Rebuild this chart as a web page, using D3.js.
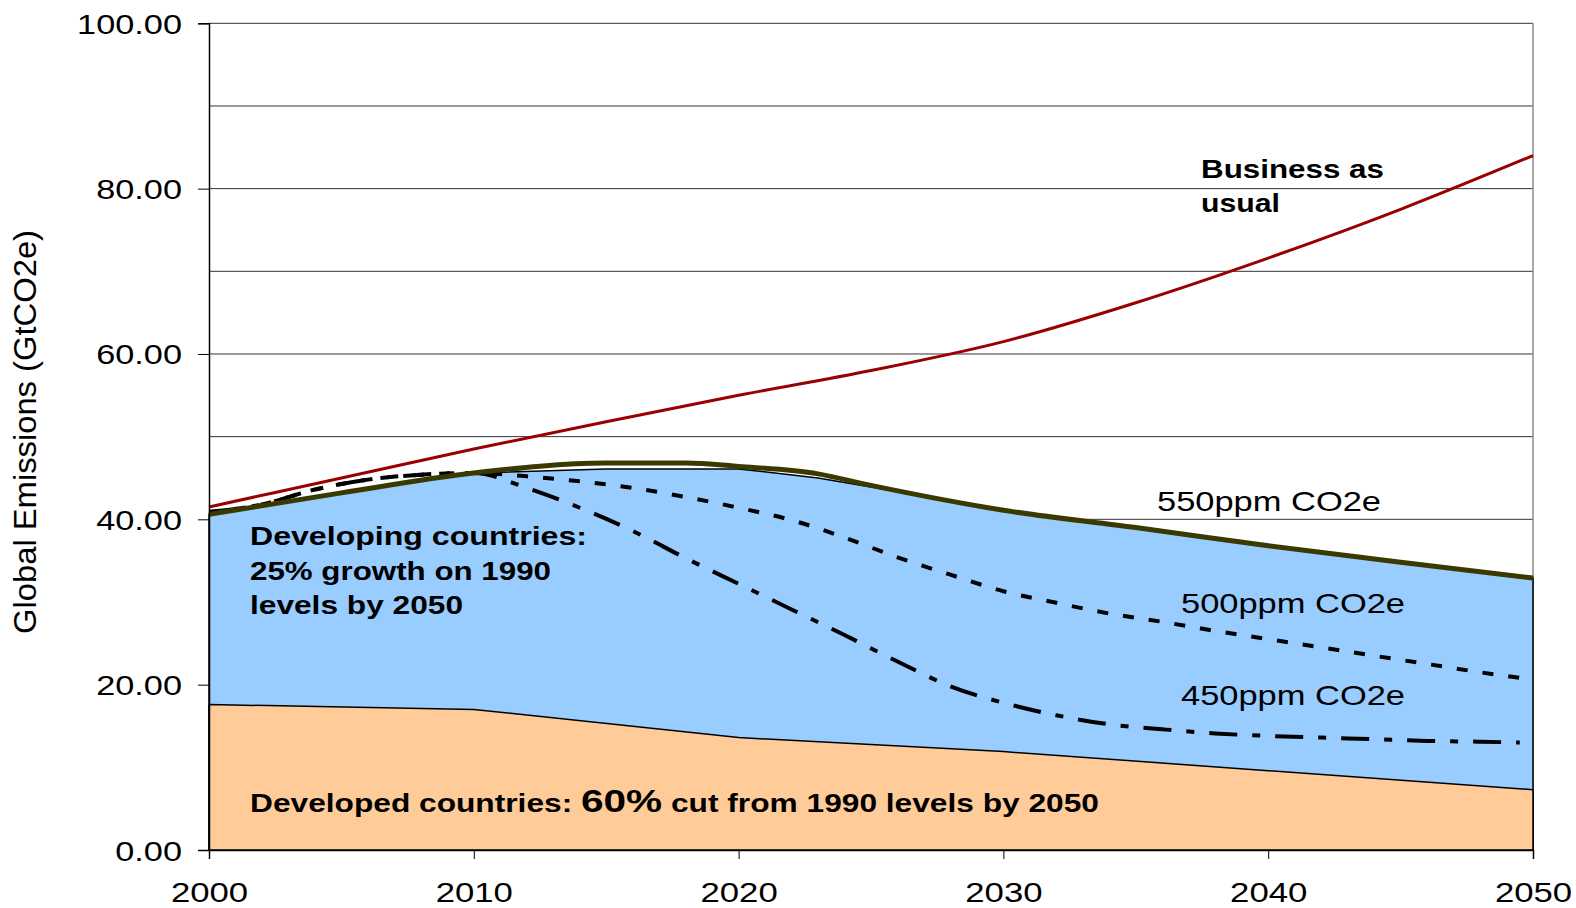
<!DOCTYPE html>
<html>
<head>
<meta charset="utf-8">
<script src="https://cdn.jsdelivr.net/npm/d3@7"></script>
<style>
  html, body { margin: 0; padding: 0; background: #fff; }
  svg { display: block; }
  text { font-family: "Liberation Sans", Arial, sans-serif; fill: #000; }
</style>
</head>
<body>
<svg id="chart" width="1576" height="908"></svg>
<script>
// ---------- DATA ----------
const xTicks = [2000, 2010, 2020, 2030, 2040, 2050];
const yTicks = [0, 20, 40, 60, 80, 100];
const gridValues = [10, 20, 30, 40, 50, 60, 70, 80, 90, 100];

// Business as usual
const bauYears  = [2000, 2005, 2010, 2015, 2020, 2025, 2030, 2035, 2040, 2045, 2050];
const bauValues = [41.5, 45.0, 48.5, 51.8, 55.0, 58.0, 61.5, 66.2, 71.6, 77.5, 84.0];

// Developed countries (orange area top)
const developedYears  = [2000, 2010, 2020, 2030, 2040, 2050];
const developedValues = [17.6, 17.0, 13.6, 11.9, 9.6, 7.3];

// Developing countries area top (blue area)
const developingYears  = [2000, 2005, 2010, 2015, 2020, 2023, 2025, 2030, 2035, 2040, 2045, 2050];
const developingValues = [40.6, 43.2, 45.6, 46.1, 46.1, 45.0, 43.9, 41.1, 39.0, 36.8, 34.8, 32.9];

// 550ppm CO2e pathway (olive line)
const p550Years  = [2000, 2005, 2010, 2015, 2018, 2020, 2023, 2025, 2030, 2035, 2040, 2045, 2050];
const p550Values = [40.6, 43.2, 45.6, 46.8, 46.8, 46.4, 45.5, 44.1, 41.1, 39.0, 36.8, 34.8, 32.9];

// 500ppm CO2e pathway (dotted)
const p500Years  = [2000, 2002, 2004, 2006, 2008, 2010, 2012, 2014, 2016, 2018, 2020, 2022, 2024, 2026, 2028, 2030, 2032, 2034, 2036, 2038, 2040, 2042, 2044, 2046, 2048, 2050];
const p500Values = [40.9, 41.8, 43.6, 44.8, 45.4, 45.6, 45.2, 44.6, 43.8, 42.7, 41.4, 39.9, 37.8, 35.4, 33.3, 31.3, 29.9, 28.6, 27.6, 26.5, 25.5, 24.5, 23.5, 22.5, 21.5, 20.6];

// 450ppm CO2e pathway (dash-dot)
const p450Years  = [2000, 2002, 2004, 2006, 2008, 2010, 2012, 2014, 2016, 2018, 2020, 2022, 2024, 2026, 2028, 2030, 2032, 2034, 2036, 2038, 2040, 2042, 2044, 2046, 2048, 2049.5];
const p450Values = [40.9, 41.8, 43.6, 44.8, 45.4, 45.6, 43.8, 41.4, 38.6, 35.3, 32.2, 29.1, 26.0, 22.8, 19.8, 17.8, 16.3, 15.2, 14.6, 14.1, 13.8, 13.6, 13.4, 13.2, 13.1, 13.0];

const yAxisTitle = "Global Emissions (GtCO2e)";

// ---------- LAYOUT ----------
const svg = d3.select("#chart");
const plotLeft = 209, plotRight = 1533, plotTop = 23.3, plotBottom = 850;

const x = d3.scaleLinear().domain([2000, 2050]).range([plotLeft, plotRight]);
const y = d3.scaleLinear().domain([0, 100]).range([plotBottom, plotTop]);

const zip = (xs, vs) => xs.map((d, i) => ({ year: d, value: vs[i] }));

function stretch(sel, factor) {
  sel.each(function () {
    const w = this.getComputedTextLength();
    d3.select(this).attr("textLength", w * factor).attr("lengthAdjust", "spacingAndGlyphs");
  });
}
function fit(sel, width) {
  sel.attr("textLength", width).attr("lengthAdjust", "spacingAndGlyphs");
}

// gridlines
svg.append("g").selectAll("line").data(gridValues).join("line")
  .attr("x1", plotLeft).attr("x2", plotRight)
  .attr("y1", d => y(d)).attr("y2", d => y(d))
  .attr("stroke", "#333").attr("stroke-width", 1);

// right border
svg.append("line")
  .attr("x1", plotRight).attr("x2", plotRight).attr("y1", plotTop).attr("y2", plotBottom)
  .attr("stroke", "#8a8a8a").attr("stroke-width", 1.5);

// areas
const developedData = zip(developedYears, developedValues);
const developingData = zip(developingYears, developingValues);

const areaLow = d3.area().x(d => x(d.year)).y0(y(0)).y1(d => y(d.value));
svg.append("path").datum(developingData)
  .attr("d", areaLow)
  .attr("fill", "#99CCFF").attr("stroke", "#000").attr("stroke-width", 1.5);
svg.append("path").datum(developedData)
  .attr("d", areaLow)
  .attr("fill", "#FFCC99").attr("stroke", "#000").attr("stroke-width", 1.5);

// lines
const line = d3.line().x(d => x(d.year)).y(d => y(d.value)).curve(d3.curveMonotoneX);

svg.append("path").datum(zip(p500Years, p500Values))
  .attr("d", line).attr("fill", "none")
  .attr("stroke", "#000").attr("stroke-width", 4)
  .attr("stroke-dasharray", "11,15");

svg.append("path").datum(zip(p450Years, p450Values))
  .attr("d", line).attr("fill", "none")
  .attr("stroke", "#000").attr("stroke-width", 4)
  .attr("stroke-dasharray", "28,15,8,15");

svg.append("path").datum(zip(p550Years, p550Values))
  .attr("d", line).attr("fill", "none")
  .attr("stroke", "#3a3a00").attr("stroke-width", 5)
  .attr("stroke-linejoin", "round");

svg.append("path").datum(zip(bauYears, bauValues))
  .attr("d", line).attr("fill", "none")
  .attr("stroke", "#990000").attr("stroke-width", 3);

// axes
const yAxis = svg.append("g").attr("transform", `translate(${plotLeft},0)`)
  .call(d3.axisLeft(y).tickValues(yTicks).tickFormat(d3.format(".2f")).tickSize(11).tickPadding(16));
yAxis.select(".domain").attr("stroke", "#000").attr("stroke-width", 1.5);
yAxis.selectAll(".tick line").attr("stroke", "#000").attr("stroke-width", 1);
yAxis.selectAll("text")
  .attr("font-size", 27).attr("dy", "0.37em")
  .style("font-family", "'Liberation Sans', Arial, sans-serif").attr("fill", "#000");
stretch(yAxis.selectAll("text"), 1.27);

const xAxis = svg.append("g").attr("transform", `translate(0,${plotBottom})`)
  .call(d3.axisBottom(x).tickValues(xTicks).tickFormat(d3.format("d")).tickSize(9).tickPadding(23));
xAxis.select(".domain").attr("stroke", "#000").attr("stroke-width", 1.5);
xAxis.selectAll(".tick line").attr("stroke", "#000").attr("stroke-width", 1);
xAxis.selectAll("text")
  .attr("font-size", 28)
  .style("font-family", "'Liberation Sans', Arial, sans-serif").attr("fill", "#000");
stretch(xAxis.selectAll("text"), 1.24);

// y axis title
const yt = svg.append("text")
  .attr("transform", "translate(36,432) rotate(-90)")
  .attr("text-anchor", "middle")
  .attr("font-size", 31)
  .text(yAxisTitle);
fit(yt, 404);

// annotations
function label(txt, px, py, size, weight, width) {
  const t = svg.append("text").attr("x", px).attr("y", py)
    .attr("font-size", size).attr("font-weight", weight).text(txt);
  fit(t, width);
  return t;
}
label("Business as", 1201, 178, 26, "bold", 183);
label("usual", 1201, 212, 26, "bold", 79);
label("550ppm CO2e", 1157, 511, 28, "normal", 224);
label("500ppm CO2e", 1181, 613, 28, "normal", 224);
label("450ppm CO2e", 1181, 705, 28, "normal", 224);
label("Developing countries:", 250, 545, 26, "bold", 337);
label("25% growth on 1990", 250, 579.5, 26, "bold", 301);
label("levels by 2050", 250, 614, 26, "bold", 213);

const dev = svg.append("text").attr("x", 250).attr("y", 812)
  .attr("font-weight", "bold").attr("font-size", 25);
dev.append("tspan").text("Developed countries: ");
dev.append("tspan").attr("font-size", 32).text("60%");
dev.append("tspan").text(" cut from 1990 levels by 2050");
fit(dev, 849);
</script>
</body>
</html>
